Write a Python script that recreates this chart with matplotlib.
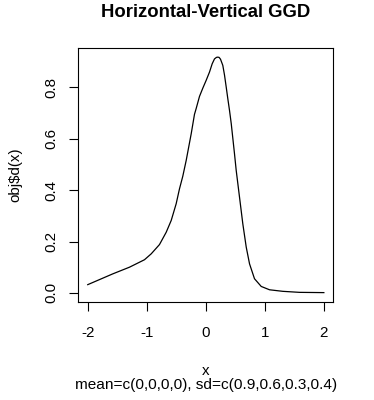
import matplotlib
matplotlib.use('Agg')
import matplotlib.pyplot as plt

# density values
x_vals = [-2.0, -1.576, -1.293, -1.039, -0.925, -0.785, -0.671, -0.586, -0.502,
          -0.446, -0.39, -0.332, -0.247, -0.192, -0.163, -0.107, -0.051, 0.007,
          0.063, 0.108, 0.147, 0.180, 0.203, 0.225, 0.249, 0.288, 0.317, 0.346,
          0.373, 0.402, 0.431, 0.486, 0.515, 0.571, 0.627, 0.685, 0.741, 0.825,
          0.939, 1.08, 1.305, 1.588, 2.0]
y_vals = [0.032, 0.074, 0.100, 0.129, 0.152, 0.188, 0.236, 0.282, 0.347,
          0.405, 0.454, 0.516, 0.620, 0.695, 0.718, 0.765, 0.797, 0.828,
          0.860, 0.892, 0.911, 0.917, 0.918, 0.917, 0.910, 0.886, 0.848, 0.801,
          0.756, 0.710, 0.659, 0.542, 0.477, 0.373, 0.269, 0.178, 0.113, 0.055,
          0.025, 0.012, 0.006, 0.002, 0.001]

x_ticks = [-2, -1, 0, 1, 2]
y_ticks = [0.0, 0.2, 0.4, 0.6, 0.8]
y_tick_labels = ['0.0', '0.2', '0.4', '0.6', '0.8']

title = 'Horizontal-Vertical GGD'
x_label = 'x'
y_label = 'obj$d(x)'
sub_title = 'mean=c(0,0,0,0), sd=c(0.9,0.6,0.3,0.4)'

W, H = 374, 400
plt.rcParams['font.family'] = ['Liberation Sans', 'DejaVu Sans']

fig = plt.figure(figsize=(W / 100, H / 100), dpi=100)
ax = fig.add_axes([78.3 / W, 1 - 302.3 / H, 255.0 / W, 254.6 / H])

ax.plot(x_vals, y_vals, color='black', linewidth=0.9)

# R style axis extension (4%)
ax.set_xlim(-2.16, 2.16)
ymax = max(y_vals)
ax.set_ylim(-0.04 * ymax, ymax * 1.04)

for s in ax.spines.values():
    s.set_linewidth(0.8)
    s.set_color('black')

ax.set_xticks(x_ticks)
ax.set_xticklabels([str(t) for t in x_ticks])
ax.set_yticks(y_ticks)
ax.set_yticklabels(y_tick_labels, rotation=90, va='center')
ax.tick_params(axis='both', length=6.5, width=0.8, labelsize=10.9, color='black')
ax.tick_params(axis='x', pad=10.5)
ax.tick_params(axis='y', pad=8)

fig.text(205.8 / W, 1 - 16.7 / H, title, ha='center', va='baseline',
         fontsize=13.3, fontweight='bold')
fig.text(205.8 / W, 1 - 375 / H, x_label, ha='center', va='baseline', fontsize=10.9)
fig.text(205.8 / W, 1 - 389.5 / H, sub_title, ha='center', va='baseline', fontsize=11.1)
fig.text(19.5 / W, 1 - 175 / H, y_label, ha='center', va='baseline', fontsize=10.9,
         rotation=90, rotation_mode='anchor')

fig.savefig('out.png', dpi=100)
